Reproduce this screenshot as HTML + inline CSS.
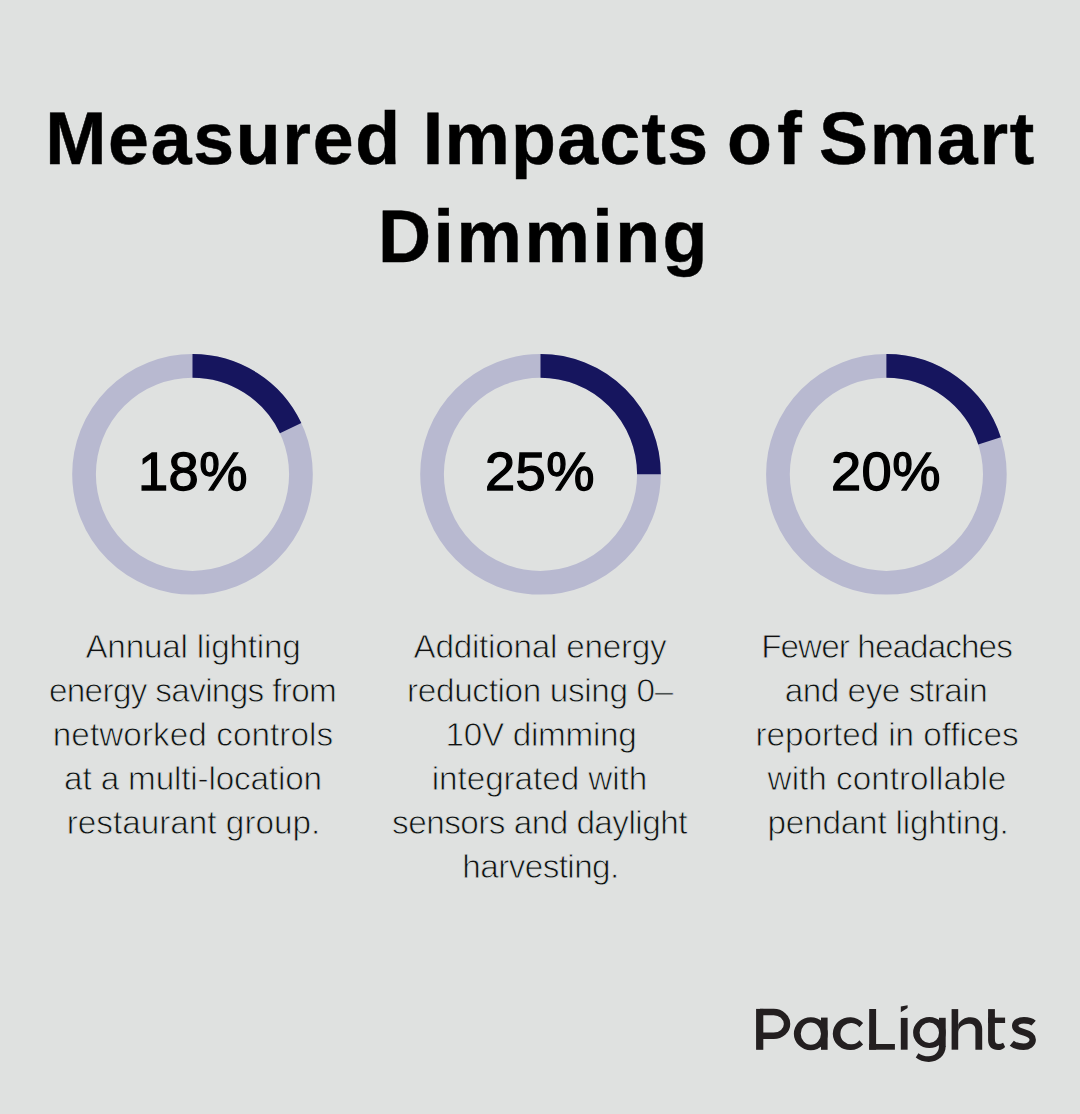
<!DOCTYPE html>
<html><head><meta charset="utf-8"><title>Measured Impacts of Smart Dimming</title><style>
html,body{margin:0;padding:0;}
body{width:1080px;height:1114px;background:#dfe1e0;position:relative;overflow:hidden;font-family:"Liberation Sans",sans-serif;}
.l{position:absolute;text-align:center;white-space:nowrap;}
svg{position:absolute;left:0;top:0;}
</style></head><body>

<svg width="1080" height="1114" viewBox="0 0 1080 1114">
<circle cx="192.5" cy="474.3" r="108.45" fill="none" stroke="#b8b9d0" stroke-width="23.7"/>
<path d="M192.5 365.850 A108.45 108.45 0 0 1 290.628 428.124" fill="none" stroke="#16155e" stroke-width="23.7"/>
<circle cx="540.5" cy="474.3" r="108.45" fill="none" stroke="#b8b9d0" stroke-width="23.7"/>
<path d="M540.5 365.850 A108.45 108.45 0 0 1 648.950 474.300" fill="none" stroke="#16155e" stroke-width="23.7"/>
<circle cx="886.4" cy="474.3" r="108.45" fill="none" stroke="#b8b9d0" stroke-width="23.7"/>
<path d="M886.4 365.850 A108.45 108.45 0 0 1 989.542 440.787" fill="none" stroke="#16155e" stroke-width="23.7"/>
</svg>
<div class="l" style="left:-156.00px;top:188.47px;width:1400px;font-size:73.5px;line-height:98px;font-weight:700;letter-spacing:2.500px;color:#000;-webkit-text-stroke:0.5px #000;">Dimming</div>
<div class="l" style="left:-507.00px;top:437.28px;width:1400px;font-size:54.3px;line-height:70px;font-weight:400;letter-spacing:0.500px;color:#000;-webkit-text-stroke:1.3px #000;">18%</div>
<div class="l" style="left:-160.00px;top:437.28px;width:1400px;font-size:54.3px;line-height:70px;font-weight:400;letter-spacing:0.500px;color:#000;-webkit-text-stroke:1.3px #000;">25%</div>
<div class="l" style="left:186.00px;top:437.28px;width:1400px;font-size:54.3px;line-height:70px;font-weight:400;letter-spacing:0.500px;color:#000;-webkit-text-stroke:1.3px #000;">20%</div>
<div class="l" style="left:-507.00px;top:625.26px;width:1400px;font-size:33.3px;line-height:44px;font-weight:400;letter-spacing:-0.214px;color:#111;-webkit-text-stroke:0.8px #dfe1e0;">Annual lighting</div>
<div class="l" style="left:-507.50px;top:669.26px;width:1400px;font-size:33.3px;line-height:44px;font-weight:400;letter-spacing:-0.667px;color:#111;-webkit-text-stroke:0.8px #dfe1e0;">energy savings from</div>
<div class="l" style="left:-507.00px;top:713.26px;width:1400px;font-size:33.3px;line-height:44px;font-weight:400;letter-spacing:0.059px;color:#111;-webkit-text-stroke:0.8px #dfe1e0;">networked controls</div>
<div class="l" style="left:-507.00px;top:757.26px;width:1400px;font-size:33.3px;line-height:44px;font-weight:400;letter-spacing:-0.167px;color:#111;-webkit-text-stroke:0.8px #dfe1e0;">at a multi-location</div>
<div class="l" style="left:-506.50px;top:801.26px;width:1400px;font-size:33.3px;line-height:44px;font-weight:400;letter-spacing:0.000px;color:#111;-webkit-text-stroke:0.8px #dfe1e0;">restaurant group.</div>
<div class="l" style="left:-160.00px;top:625.26px;width:1400px;font-size:33.3px;line-height:44px;font-weight:400;letter-spacing:-0.250px;color:#111;-webkit-text-stroke:0.8px #dfe1e0;">Additional energy</div>
<div class="l" style="left:-160.00px;top:669.26px;width:1400px;font-size:33.3px;line-height:44px;font-weight:400;letter-spacing:-0.353px;color:#111;-webkit-text-stroke:0.8px #dfe1e0;">reduction using 0–</div>
<div class="l" style="left:-159.00px;top:713.26px;width:1400px;font-size:33.3px;line-height:44px;font-weight:400;letter-spacing:-0.300px;color:#111;-webkit-text-stroke:0.8px #dfe1e0;">10V dimming</div>
<div class="l" style="left:-160.50px;top:757.26px;width:1400px;font-size:33.3px;line-height:44px;font-weight:400;letter-spacing:-0.071px;color:#111;-webkit-text-stroke:0.8px #dfe1e0;">integrated with</div>
<div class="l" style="left:-160.50px;top:801.26px;width:1400px;font-size:33.3px;line-height:44px;font-weight:400;letter-spacing:-0.526px;color:#111;-webkit-text-stroke:0.8px #dfe1e0;">sensors and daylight</div>
<div class="l" style="left:-159.50px;top:845.26px;width:1400px;font-size:33.3px;line-height:44px;font-weight:400;letter-spacing:-0.600px;color:#111;-webkit-text-stroke:0.8px #dfe1e0;">harvesting.</div>
<div class="l" style="left:186.50px;top:625.26px;width:1400px;font-size:33.3px;line-height:44px;font-weight:400;letter-spacing:-0.929px;color:#111;-webkit-text-stroke:0.8px #dfe1e0;">Fewer headaches</div>
<div class="l" style="left:186.00px;top:669.26px;width:1400px;font-size:33.3px;line-height:44px;font-weight:400;letter-spacing:-0.462px;color:#111;-webkit-text-stroke:0.8px #dfe1e0;">and eye strain</div>
<div class="l" style="left:187.00px;top:713.26px;width:1400px;font-size:33.3px;line-height:44px;font-weight:400;letter-spacing:-0.056px;color:#111;-webkit-text-stroke:0.8px #dfe1e0;">reported in offices</div>
<div class="l" style="left:187.00px;top:757.26px;width:1400px;font-size:33.3px;line-height:44px;font-weight:400;letter-spacing:0.000px;color:#111;-webkit-text-stroke:0.8px #dfe1e0;">with controllable</div>
<div class="l" style="left:188.00px;top:801.26px;width:1400px;font-size:33.3px;line-height:44px;font-weight:400;letter-spacing:-0.188px;color:#111;-webkit-text-stroke:0.8px #dfe1e0;">pendant lighting.</div>
<div class="l" style="left:-476.50px;top:90.47px;width:1400px;font-size:73.5px;line-height:98px;font-weight:700;letter-spacing:1.679px;color:#000;-webkit-text-stroke:0.5px #000;">Measured</div>
<div class="l" style="left:-134.00px;top:90.47px;width:1400px;font-size:73.5px;line-height:98px;font-weight:700;letter-spacing:1.250px;color:#000;-webkit-text-stroke:0.5px #000;">Impacts</div>
<div class="l" style="left:67.00px;top:90.47px;width:1400px;font-size:73.5px;line-height:98px;font-weight:700;letter-spacing:5.250px;color:#000;-webkit-text-stroke:0.5px #000;">of</div>
<div class="l" style="left:227.50px;top:90.47px;width:1400px;font-size:73.5px;line-height:98px;font-weight:700;letter-spacing:1.750px;color:#000;-webkit-text-stroke:0.5px #000;">Smart</div>
<svg width="1080" height="1114" viewBox="0 0 1080 1114"><g fill="#231f20"><rect x="756.1" y="1008.9" width="7.2" height="40.9"/><path d="M760 1012.05H773.7A13.35 11.85 0 0 1 773.7 1035.75H760" fill="none" stroke="#231f20" stroke-width="6.4"/><path fill-rule="evenodd" d="M793.85 1033.70A16.95 16.5 0 1 0 827.75 1033.70A16.95 16.5 0 1 0 793.85 1033.70ZM800.75 1033.70A10.1 11.1 0 1 0 820.95 1033.70A10.1 11.1 0 1 0 800.75 1033.70Z"/><rect x="821" y="1017.6" width="6.6" height="32.2"/><path d="M863.1 1022.9A17.3 16.4 0 1 0 863.1 1044.5L859.4 1040.2A10.6 10.65 0 1 1 859.4 1027.2Z"/><rect x="869.2" y="1009" width="6.9" height="40.7"/><rect x="869.2" y="1044" width="25.7" height="5.7"/><rect x="900.8" y="1017.9" width="6.8" height="31.8"/><path d="M900.8 1006.4L907.6 1005.3L907.6 1008.1L900.8 1012.2Z"/><path fill-rule="evenodd" d="M913.10 1032.60A16.3 15.5 0 1 0 945.70 1032.60A16.3 15.5 0 1 0 913.10 1032.60ZM919.60 1032.80A9.7 10.2 0 1 0 939.00 1032.80A9.7 10.2 0 1 0 919.60 1032.80Z"/><rect x="939" y="1017.8" width="6.7" height="29"/><path d="M945.7 1046C945.7 1055.5 938 1061.9 928.8 1061.9C923.5 1061.9 919 1060 915.75 1057.5L918.4 1053.2C921 1055.2 924.8 1056.3 928.8 1056.3C934.5 1056.3 939 1052.5 939 1046Z"/><rect x="951.6" y="1009.1" width="6.6" height="40.6"/><path d="M958.2 1024.5C960.5 1020 965 1017.3 970.4 1017.3C977.5 1017.3 982.2 1022 982.2 1029V1049.7H975.4V1029.5C975.4 1025.8 972.8 1023.8 968.8 1023.8C963.5 1023.8 958.2 1027.5 958.2 1033Z"/><rect x="988.1" y="1009.1" width="6.8" height="31"/><rect x="988.1" y="1017.6" width="17" height="5.4"/><path d="M988.1 1040C988.1 1046.5 992 1050 998 1050C1001 1050 1003.5 1048.8 1005.1 1046.9L1003.1 1042.8C1001.8 1043.6 1000.2 1044 998.6 1044C996.2 1044 994.9 1042.5 994.9 1039.5Z"/><path d="M1033.6 1023.2C1031.5 1021.3 1028 1020.3 1023.9 1020.3C1019 1020.3 1015.2 1022.5 1015.2 1025.8C1015.2 1030 1020 1031.3 1024 1032.4C1029 1033.7 1032.7 1035.5 1032.7 1039.8C1032.7 1044 1028.5 1046.8 1023.6 1046.8C1018.5 1046.8 1014.2 1045.2 1011.8 1043.2" fill="none" stroke="#231f20" stroke-width="6.4"/></g></svg>
</body></html>
